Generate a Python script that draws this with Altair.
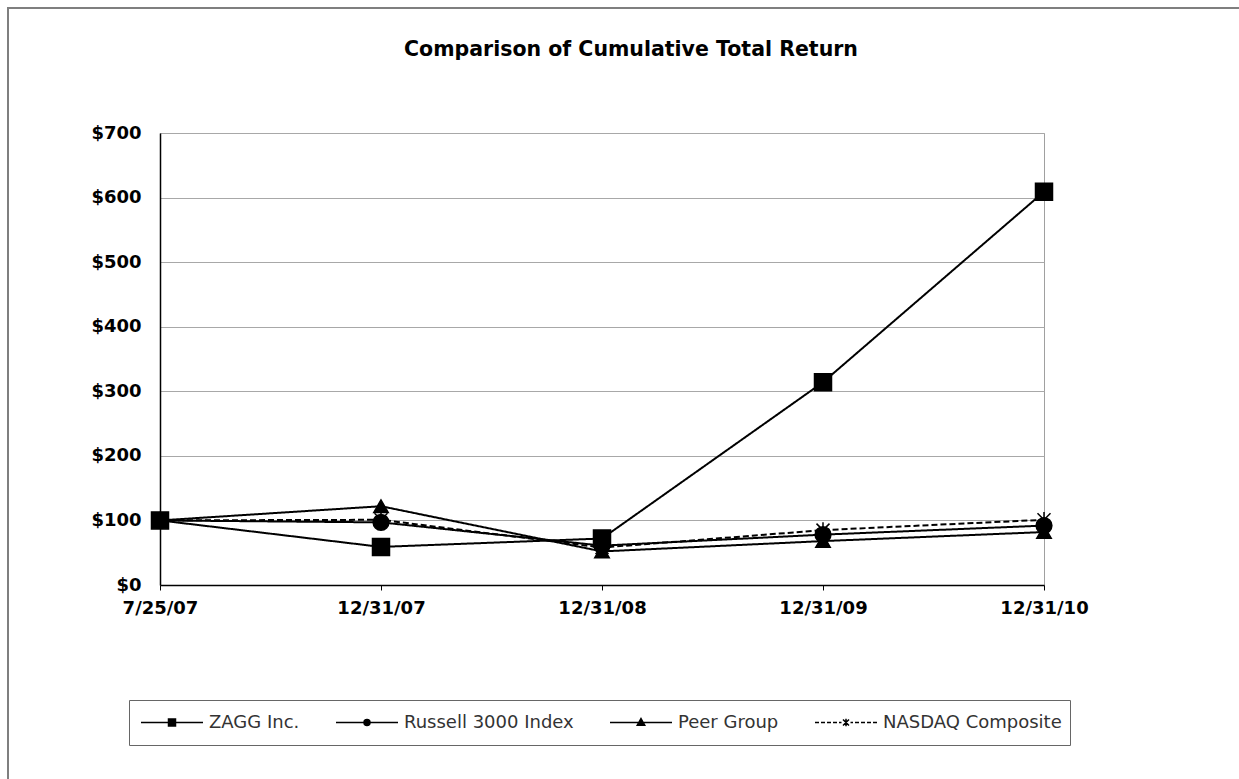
import altair as alt
import pandas as pd

# ---- data ----
dates = ["7/25/07", "12/31/07", "12/31/08", "12/31/09", "12/31/10"]
series = ["ZAGG Inc.", "Russell 3000 Index", "Peer Group", "NASDAQ Composite"]
zagg = [100, 59, 72, 314, 609]
russell = [100, 97, 61, 78, 92]
peer = [100, 122, 52, 68, 82]
nasdaq = [100, 101, 58, 85, 101]
y_ticks = [0, 100, 200, 300, 400, 500, 600, 700]
title_text = "Comparison of Cumulative Total Return"

rows = []
for name, vals in zip(series, [zagg, russell, peer, nasdaq]):
    for i, (d, v) in enumerate(zip(dates, vals)):
        rows.append({"date": d, "series": name, "value": v, "order": i})
df = pd.DataFrame(rows)

FONT = "DejaVu Sans"
W, H = 884, 452

ASTER = "M-1,-1L1,1M1,-1L-1,1M0,-1.2L0,1.2"
# legend symbols: line segment with marker in the middle (unit = 5px)
LINE = "M-6.2,0L6.2,0"
DASH = ("M-6.2,0L-5.4,0M-5.0,0L-4.2,0M-3.8,0L-3.0,0M-2.6,0L-1.8,0M-1.4,0L-0.9,0"
        "M0.9,0L1.4,0M1.8,0L2.6,0M3.0,0L3.8,0M4.2,0L5.0,0M5.4,0L6.2,0")
LEG_PATHS = [
    LINE + "M-0.7,-0.7L0.7,-0.7L0.7,0.7L-0.7,0.7Z",
    LINE + "M0.6,0A0.6,0.6,0,1,1,-0.6,0A0.6,0.6,0,1,1,0.6,0Z",
    LINE + "M0,-0.8L0.75,0.55L-0.75,0.55Z",
    DASH + "M-0.6,-0.6L0.6,0.6M0.6,-0.6L-0.6,0.6M0,-0.75L0,0.75",
]

x = alt.X("date:N", sort=dates, scale=alt.Scale(type="point", padding=0),
          axis=alt.Axis(title=None, labelAngle=0, grid=False, ticks=True, tickSize=5,
                        tickColor="black", domainColor="black", domainWidth=1.5,
                        labelPadding=9, labelFont=FONT, labelFontSize=18,
                        labelFontWeight="bold", labelColor="black"))
y = alt.Y("value:Q", scale=alt.Scale(domain=[0, 700], nice=False, zero=True),
          axis=alt.Axis(title=None, values=y_ticks, labelExpr="'$' + datum.value",
                        grid=True, gridColor="#a8a8a8", gridWidth=1, ticks=False,
                        tickSize=0, domainColor="black", domainWidth=1.5,
                        labelPadding=19, labelFont=FONT, labelFontSize=18,
                        labelFontWeight="bold", labelColor="black"))

frame = alt.Chart(pd.DataFrame({"k": [0]})).mark_rect(
    fill="white", fillOpacity=0, stroke="#7f7f7f", strokeWidth=2, clip=False
).encode(x=alt.value(-152), x2=alt.value(1100), y=alt.value(-125), y2=alt.value(680))

title = alt.Chart(pd.DataFrame({"t": [title_text]})).mark_text(
    font=FONT, fontSize=20.5, fontWeight="bold", color="black", align="center",
    baseline="middle", clip=False
).encode(text="t:N", x=alt.value(471), y=alt.value(-83))

lines = alt.Chart(df).mark_line(color="black", strokeWidth=2).encode(
    x=x, y=y,
    strokeDash=alt.StrokeDash("series:N", scale=alt.Scale(domain=series,
                              range=[[1, 0], [1, 0], [1, 0], [6, 3]]), legend=None),
    order="order:Q",
)

points = alt.Chart(df).mark_point(fill="black", stroke="black", strokeWidth=1.5,
                                  opacity=1, filled=True).encode(
    x=x, y=y,
    shape=alt.Shape("series:N", scale=alt.Scale(domain=series,
                    range=["square", "circle", "triangle-up", ASTER]), legend=None),
    size=alt.Size("series:N", scale=alt.Scale(domain=series, range=[289, 169, 200, 144]),
                  legend=None),
)

legend_layer = alt.Chart(pd.DataFrame({"series": series})).mark_point(
    fill="black", stroke="black", strokeWidth=1.5, opacity=1, filled=False, clip=True
).encode(
    x=alt.value(0), y=alt.value(-3000),
    shape=alt.Shape("series:N", scale=alt.Scale(domain=series, range=LEG_PATHS),
                    legend=alt.Legend(title=None, orient="none", legendX=-31, legendY=567,
                                      direction="horizontal", columns=4,
                                      labelFont=FONT, labelFontSize=18, labelColor="#333333",
                                      symbolSize=100, symbolOffset=26, labelOffset=28,
                                      columnPadding=32, padding=8, clipHeight=29,
                                      strokeColor="#666666", symbolStrokeWidth=1.5,
                                      labelLimit=400)),
)

chart = alt.layer(frame, title, lines, points, legend_layer).resolve_scale(
    shape="independent"
).properties(
    width=W, height=H,
    autosize=alt.AutoSizeParams(type="none"),
    padding={"left": 160, "top": 133, "right": 195, "bottom": 194},
    background="white",
).configure_view(stroke="#a0a0a0", strokeWidth=1)

chart.save("out.html", embed_options={"renderer": "svg", "actions": False})
